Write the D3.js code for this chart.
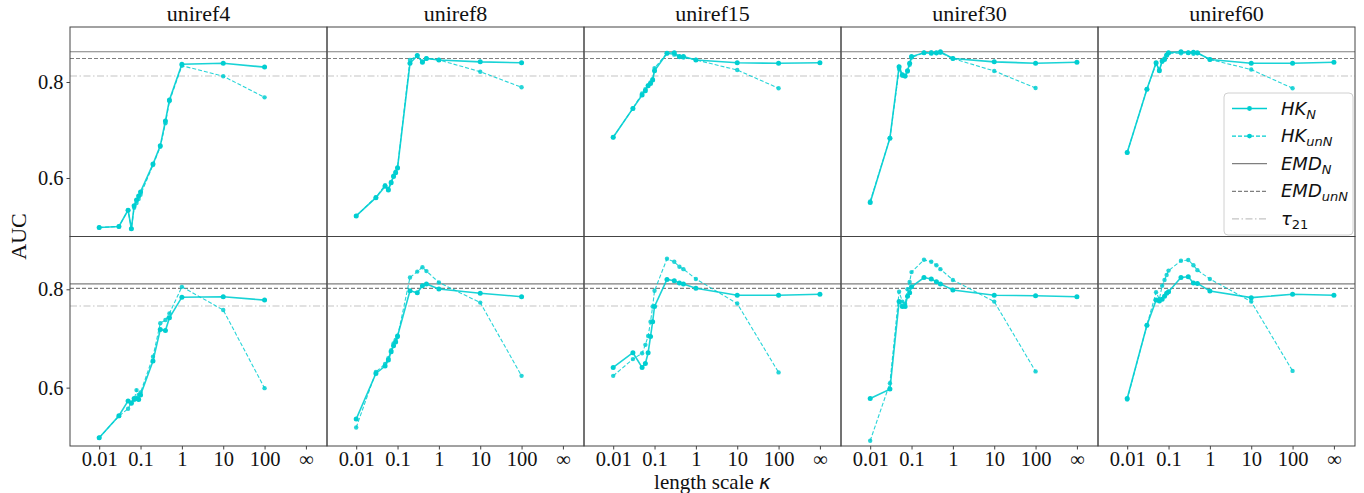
<!DOCTYPE html>
<html>
<head>
<meta charset="utf-8">
<script src="https://d3js.org/d3.v7.min.js"></script>
<style>
    html, body { margin: 0; padding: 0; background: #fff; }
    svg text { fill: #111; }
    .tick text { font-family: "Liberation Serif", "Times New Roman", serif; font-size: 20.5px; }
    .tick line { stroke: #444; }
    .math { font-family: "DejaVu Sans", sans-serif; font-style: italic; }
</style>
</head>
<body>
<svg id="chart" width="1364" height="493"></svg>
<script>

// ---- data ----
var datasets = ['uniref4', 'uniref8', 'uniref15', 'uniref30', 'uniref60'];
var kappas = [0.01, 0.03, 0.05, 0.06, 0.07, 0.08, 0.09, 0.1, 0.2, 0.3, 0.4, 0.5, 1, 10, 100];
var tickValues = [0.01, 0.1, 1, 10, 100, Infinity];
var tickLabels = ['0.01', '0.1', '1', '10', '100', '\u221e'];
var yTickValues = [0.6, 0.8];

// row 1, HK normalised / unnormalised, one array per dataset
var hkN_row1 = [
    [0.497, 0.499, 0.533, 0.494, 0.542, 0.554, 0.5625, 0.571, 0.629, 0.667, 0.719, 0.7625, 0.837, 0.839, 0.831],
    [0.521, 0.559, 0.583, 0.575, 0.590, 0.603, 0.611, 0.621, 0.839, 0.855, 0.841, 0.849, 0.846, 0.842, 0.840],
    [0.685, 0.745, 0.773, 0.782, 0.792, 0.797, 0.804, 0.8235, 0.860, 0.861, 0.853, 0.853, 0.846, 0.840, 0.839],
    [0.549, 0.683, 0.832, 0.815, 0.8125, 0.8235, 0.839, 0.853, 0.861, 0.860, 0.861, 0.863, 0.849, 0.842, 0.839],
    [0.653, 0.785, 0.840, 0.8235, 0.844, 0.847, 0.856, 0.861, 0.863, 0.861, 0.862, 0.861, 0.847, 0.839, 0.839]
];
var hkUnN_row1 = [
    [0.497, 0.499, 0.533, 0.494, 0.538, 0.548, 0.556, 0.565, 0.627, 0.665, 0.714, 0.760, 0.834, 0.812, 0.768],
    [0.521, 0.560, 0.585, 0.577, 0.592, 0.605, 0.613, 0.622, 0.846, 0.855, 0.843, 0.849, 0.846, 0.8215, 0.789],
    [0.685, 0.745, 0.776, 0.785, 0.793, 0.799, 0.806, 0.829, 0.860, 0.857, 0.852, 0.851, 0.846, 0.825, 0.787],
    [0.551, 0.683, 0.827, 0.813, 0.812, 0.822, 0.836, 0.851, 0.861, 0.862, 0.860, 0.861, 0.849, 0.823, 0.7875],
    [0.653, 0.785, 0.838, 0.826, 0.842, 0.849, 0.857, 0.860, 0.860, 0.861, 0.859, 0.860, 0.847, 0.826, 0.787]
];
var hkInfN_row1 = [null, null, 0.840, 0.841, 0.841];

// row 2
var hkN_row2 = [
    [0.498, 0.543, 0.573, 0.568, 0.578, 0.578, 0.576, 0.585, 0.654, 0.718, 0.716, 0.742, 0.784, 0.785, 0.778],
    [0.536, 0.629, 0.644, 0.656, 0.673, 0.685, 0.693, 0.705, 0.797, 0.793, 0.807, 0.811, 0.8006, 0.792, 0.785],
    [0.641, 0.671, 0.641, 0.649, 0.671, 0.704, 0.734, 0.765, 0.820, 0.8175, 0.813, 0.811, 0.802, 0.788, 0.788],
    [0.578, 0.597, 0.775, 0.765, 0.765, 0.786, 0.793, 0.805, 0.824, 0.821, 0.8155, 0.811, 0.7986, 0.788, 0.787],
    [0.578, 0.727, 0.778, 0.776, 0.780, 0.786, 0.792, 0.795, 0.824, 0.8256, 0.813, 0.812, 0.7966, 0.783, 0.790]
];
var hkUnN_row2 = [
    [0.498, 0.542, 0.557, 0.570, 0.575, 0.595, 0.585, 0.590, 0.663, 0.731, 0.7375, 0.751, 0.805, 0.758, 0.599],
    [0.519, 0.632, 0.648, 0.660, 0.676, 0.690, 0.697, 0.703, 0.824, 0.836, 0.845, 0.837, 0.814, 0.773, 0.624],
    [0.624, 0.658, 0.670, 0.687, 0.705, 0.734, 0.765, 0.797, 0.862, 0.856, 0.846, 0.841, 0.821, 0.771, 0.631],
    [0.492, 0.609, 0.795, 0.775, 0.770, 0.800, 0.815, 0.835, 0.860, 0.856, 0.849, 0.841, 0.819, 0.775, 0.633],
    [0.576, 0.727, 0.794, 0.780, 0.807, 0.819, 0.829, 0.838, 0.858, 0.8596, 0.849, 0.839, 0.821, 0.775, 0.634]
];
var hkInfN_row2 = [null, null, 0.790, 0.785, 0.788];

// reference lines, one value per row
var emdN = [0.863, 0.811];
var emdUnN = [0.849, 0.802];
var tau21 = [0.8125, 0.766];


// ---- layout ----
var margin = { left: 70, top: 27 },
    panelW = 257,
    panelH = 209.5,
    cyan = '#00ced1',
    serif = '"Liberation Serif", "Times New Roman", serif',
    svg = d3.select('#chart');

var rows = [
    { hkN: hkN_row1, hkUnN: hkUnN_row1, hkInf: hkInfN_row1, yDomain: [0.4781, 0.9146] },
    { hkN: hkN_row2, hkUnN: hkUnN_row2, hkInf: hkInfN_row2, yDomain: [0.4813, 0.9074] }
];

// infinity sits one decade after 100 on the log axis
var kx = function(k) { return isFinite(k) ? k : 1000; };

var x = d3.scaleLog()
    .domain([Math.pow(10, -2.706), Math.pow(10, 3.51)])
    .range([0, panelW]);

var refStyles = [
    { values: emdN, color: '#7f7f7f', dash: null, width: 1.2 },
    { values: emdUnN, color: '#7f7f7f', dash: '4,2', width: 1.2 },
    { values: tau21, color: '#c4c4c4', dash: '7,2.5,1.5,2.5', width: 1.2 }
];

rows.forEach(function(row, r) {
    var y = d3.scaleLinear().domain(row.yDomain).range([panelH, 0]);

    var line = d3.line()
        .x(function(d) { return x(kx(d[0])); })
        .y(function(d) { return y(d[1]); });

    datasets.forEach(function(name, c) {
        var g = svg.append('g')
            .attr('transform', 'translate(' + (margin.left + c * panelW) + ',' + (margin.top + r * panelH) + ')');

        // horizontal baselines
        refStyles.forEach(function(s) {
            g.append('line')
                .attr('x1', 0).attr('x2', panelW)
                .attr('y1', y(s.values[r])).attr('y2', y(s.values[r]))
                .attr('stroke', s.color)
                .attr('stroke-width', s.width)
                .attr('stroke-dasharray', s.dash);
        });

        var solid = kappas.map(function(k, i) { return [k, row.hkN[c][i]]; });
        if (row.hkInf[c] !== null) { solid.push([Infinity, row.hkInf[c]]); }
        var dashed = kappas.map(function(k, i) { return [k, row.hkUnN[c][i]]; });

        // unnormalised: thin dashed
        g.append('path')
            .attr('d', line(dashed))
            .attr('fill', 'none')
            .attr('stroke', cyan)
            .attr('stroke-opacity', 0.85)
            .attr('stroke-width', 1.1)
            .attr('stroke-dasharray', '4,2');
        g.selectAll('.dotU').data(dashed).enter().append('circle')
            .attr('cx', function(d) { return x(kx(d[0])); })
            .attr('cy', function(d) { return y(d[1]); })
            .attr('r', 2.2)
            .attr('fill', cyan)
            .attr('fill-opacity', 0.85);

        // normalised: solid
        g.append('path')
            .attr('d', line(solid))
            .attr('fill', 'none')
            .attr('stroke', cyan)
            .attr('stroke-opacity', 0.9)
            .attr('stroke-width', 1.6);
        g.selectAll('.dotN').data(solid).enter().append('circle')
            .attr('cx', function(d) { return x(kx(d[0])); })
            .attr('cy', function(d) { return y(d[1]); })
            .attr('r', 2.5)
            .attr('fill', cyan);

        // frame
        g.append('rect')
            .attr('width', panelW).attr('height', panelH)
            .attr('fill', 'none')
            .attr('stroke', '#444')
            .attr('stroke-width', 1);

        if (r === 0) {
            g.append('text')
                .attr('x', panelW / 2).attr('y', -6)
                .attr('text-anchor', 'middle')
                .style('font-family', serif)
                .style('font-size', '22px')
                .text(name);
        }

        if (c === 0) {
            var ya = g.append('g')
                .call(d3.axisLeft(y).tickValues(yTickValues).tickFormat(d3.format('.1f')).tickSize(3.5).tickPadding(3));
            ya.select('.domain').remove();
        }

        if (r === rows.length - 1) {
            var xa = g.append('g')
                .attr('transform', 'translate(0,' + panelH + ')')
                .call(d3.axisBottom(x)
                    .tickValues(tickValues.map(kx))
                    .tickFormat(function(d, i) { return tickLabels[i]; })
                    .tickSize(3.5).tickPadding(2));
            xa.select('.domain').remove();
        }
    });
});

// axis titles
var xl = svg.append('text')
    .attr('x', margin.left + panelW * 5 / 2).attr('y', 489)
    .attr('text-anchor', 'middle')
    .style('font-family', serif)
    .style('font-size', '21px');
xl.append('tspan').text('length scale ');
xl.append('tspan').attr('class', 'math').style('font-size', '20px').text('\u03ba');

svg.append('text')
    .attr('transform', 'translate(26,' + (margin.top + panelH) + ') rotate(-90)')
    .attr('text-anchor', 'middle')
    .style('font-family', serif)
    .style('font-size', '22px')
    .text('AUC');


// ---- legend ----
var legendItems = [
    { main: 'HK', sub: 'N', color: cyan, dash: null, width: 1.6, marker: true },
    { main: 'HK', sub: 'unN', color: cyan, dash: '4,2', width: 1.1, marker: true },
    { main: 'EMD', sub: 'N', color: '#7f7f7f', dash: null, width: 1.2, marker: false },
    { main: 'EMD', sub: 'unN', color: '#7f7f7f', dash: '4,2', width: 1.2, marker: false },
    { main: '\u03c4', sub: '21', color: '#c4c4c4', dash: '7,2.5,1.5,2.5', width: 1.2, marker: false }
];

var legend = svg.append('g').attr('transform', 'translate(1224,93)');
legend.append('rect')
    .attr('width', 129).attr('height', 142)
    .attr('rx', 4)
    .attr('fill', '#fff').attr('fill-opacity', 0.85)
    .attr('stroke', '#d0d0d0');

legendItems.forEach(function(d, i) {
    var ly = 15.5 + i * 27.6,
        item = legend.append('g').attr('transform', 'translate(0,' + ly + ')');
    item.append('line')
        .attr('x1', 8).attr('x2', 43)
        .attr('stroke', d.color)
        .attr('stroke-width', d.width)
        .attr('stroke-dasharray', d.dash);
    if (d.marker) {
        item.append('circle').attr('cx', 25.5).attr('r', 2.4).attr('fill', d.color);
    }
    var t = item.append('text')
        .attr('x', 57).attr('y', 6)
        .attr('class', 'math')
        .style('font-size', '18px');
    t.append('tspan').text(d.main);
    t.append('tspan')
        .attr('dy', 4)
        .style('font-size', '13px')
        .style('font-style', d.sub === '21' ? 'normal' : 'italic')
        .text(d.sub);
});

</script>
</body>
</html>
